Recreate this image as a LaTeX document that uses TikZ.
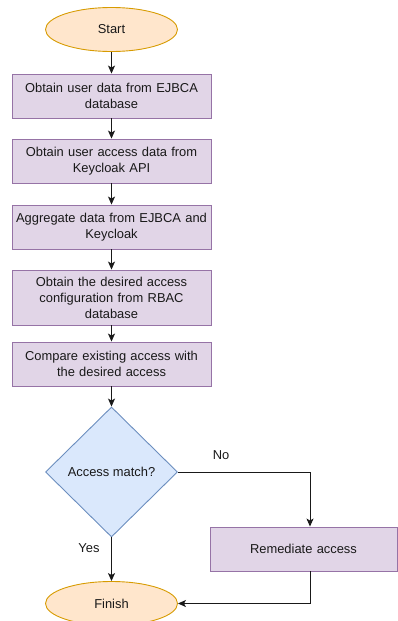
\documentclass[tikz,border=0pt]{standalone}
\usepackage{fontspec}
\setmainfont{Liberation Sans}
\usetikzlibrary{shapes.geometric,arrows.meta}
\definecolor{ofill}{HTML}{FFE6CC}
\definecolor{odraw}{HTML}{D79B00}
\definecolor{pfill}{HTML}{E1D5E7}
\definecolor{pdraw}{HTML}{9673A6}
\definecolor{bfill}{HTML}{DAE8FC}
\definecolor{bdraw}{HTML}{6C8EBF}
\begin{document}
\begin{tikzpicture}[x=1pt,y=-1pt,
  txt/.style={font=\fontsize{12.9}{16}\selectfont, text=black!90, align=center},
  term/.style={txt, ellipse, draw=odraw, fill=ofill, line width=0.9pt, minimum width=132pt, minimum height=44pt, inner sep=0pt},
  proc/.style={txt, rectangle, draw=pdraw, fill=pfill, line width=0.9pt, minimum height=44pt, inner sep=0pt, text width=196pt},
  dec/.style={txt, diamond, draw=bdraw, fill=bfill, line width=0.9pt, minimum width=132pt, minimum height=130pt, inner sep=0pt},
  arr/.style={draw=black!90, line width=0.9pt, -{Stealth[length=8pt,width=7pt,inset=2pt]}},
  lbl/.style={font=\fontsize{12.9}{16}\selectfont, text=black!90}
]
\useasboundingbox (0,0) rectangle (398,621);
\node[term] (start) at (111.5,29.5) {Start};
\node[proc, minimum width=199pt] (b1) at (111.5,96) {Obtain user data from EJBCA\\database};
\node[proc, minimum width=199pt] (b2) at (111.5,161) {Obtain user access data from\\Keycloak API};
\node[proc, minimum width=199pt] (b3) at (111.5,227) {Aggregate data from EJBCA and\\Keycloak};
\node[proc, minimum width=199pt, minimum height=55pt] (b4) at (111.5,297.5) {Obtain the desired access\\configuration from RBAC\\database};
\node[proc, minimum width=199pt] (b5) at (111.5,364) {Compare existing access with\\the desired access};
\node[dec] (d) at (111.5,472) {Access match?};
\node[proc, minimum width=187pt, text width=180pt] (rem) at (303.5,549) {Remediate access};
\node[term] (fin) at (111.5,603.5) {Finish};
\coordinate (c1) at (310,472);
\coordinate (c2) at (310,603.5);
\draw[arr] (start) -- (b1);
\draw[arr] (b1) -- (b2);
\draw[arr] (b2) -- (b3);
\draw[arr] (b3) -- (b4);
\draw[arr] (b4) -- (b5);
\draw[arr] (b5) -- (d);
\draw[arr] (d) -- (fin);
\draw[arr] (d.east) -- (c1) -- (c1 |- rem.north);
\draw[arr] (c1 |- rem.south) -- (c2) -- (fin.east);
\node[lbl] (no) at (221,455) {No};
\node[lbl] (yes) at (89,548) {Yes};
\end{tikzpicture}
\end{document}
